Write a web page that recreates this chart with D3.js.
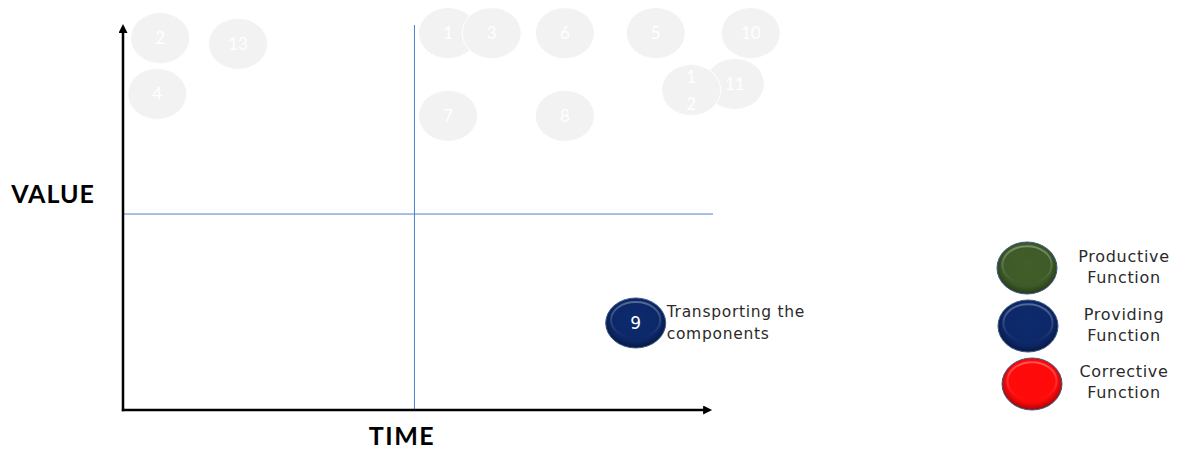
<!DOCTYPE html>
<html>
<head>
<meta charset="utf-8">
<script src="https://cdn.jsdelivr.net/npm/d3@7"></script>
<style>
  html, body { margin: 0; padding: 0; background: #ffffff; }
  svg { display: block; }
</style>
</head>
<body>
<svg id="chart" width="1178" height="450"></svg>
<script>
// Activities placed on the time / value plane (0–100 on both axes)
const activityIds    = [2, 13, 4, 1, 3, 6, 5, 10, 11, 12, 7, 8];
const activityTime   = [6.3, 19.5, 5.8, 55.1, 62.5, 74.9, 90.3, 106.4, 103.7, 96.3, 55.1, 74.9];
const activityValue  = [96.6, 95.1, 82.1, 97.9, 97.9, 97.9, 97.9, 97.9, 84.7, 83.1, 76.4, 76.4];
const activityLines  = [["2"], ["13"], ["4"], ["1"], ["3"], ["6"], ["5"], ["10"], ["11"], ["1", "2"], ["7"], ["8"]];

// Highlighted activity
const focusId    = 9;
const focusTime  = 86.9;
const focusValue = 22.6;
const focusType  = "Providing Function";
const focusText  = ["Transporting the", "components"];

// Quadrant dividers
const dividerTime  = 49.4;
const dividerValue = 50.9;

// Function types (legend)
const functionNames  = [["Productive", "Function"], ["Providing", "Function"], ["Corrective", "Function"]];
const functionKeys   = ["Productive Function", "Providing Function", "Corrective Function"];
const functionColors = ["#3e5a28", "#0c2868", "#ff0a0a"];

const svg = d3.select("#chart");
const x = d3.scaleLinear().domain([0, 100]).range([123, 713]);
const y = d3.scaleLinear().domain([0, 100]).range([410, 25]);
const color = d3.scaleOrdinal().domain(functionKeys).range(functionColors);

const defs = svg.append("defs");
defs.append("marker")
  .attr("id", "arrow")
  .attr("markerUnits", "userSpaceOnUse")
  .attr("viewBox", "0 0 10 10")
  .attr("refX", 1).attr("refY", 5)
  .attr("markerWidth", 10).attr("markerHeight", 9)
  .attr("orient", "auto")
  .append("path").attr("d", "M0,0L10,5L0,10Z").attr("fill", "#000");

// Beveled button look for coloured discs
functionColors.forEach((c, i) => {
  const g = defs.append("radialGradient")
    .attr("id", "bevel" + i).attr("cx", "50%").attr("cy", "45%").attr("r", "55%");
  g.append("stop").attr("offset", "0%").attr("stop-color", d3.color(c).brighter(0.15));
  g.append("stop").attr("offset", "75%").attr("stop-color", c);
  g.append("stop").attr("offset", "100%").attr("stop-color", d3.color(c).darker(1.3));
});
const hl = defs.append("linearGradient").attr("id", "shine").attr("x1", 0).attr("y1", 0).attr("x2", 0).attr("y2", 1);
hl.append("stop").attr("offset", "0%").attr("stop-color", "#fff").attr("stop-opacity", 0.3);
hl.append("stop").attr("offset", "100%").attr("stop-color", "#fff").attr("stop-opacity", 0);

function bevelDisc(sel, cx, cy, rx, ry, idx) {
  sel.append("ellipse")
    .attr("cx", cx).attr("cy", cy).attr("rx", rx).attr("ry", ry)
    .attr("fill", `url(#bevel${idx})`)
    .attr("stroke", "#3b5a8a").attr("stroke-width", 1);
  sel.append("ellipse")
    .attr("cx", cx).attr("cy", cy - ry * 0.12).attr("rx", rx * 0.82).attr("ry", ry * 0.72)
    .attr("fill", "none")
    .attr("stroke", "url(#shine)").attr("stroke-width", 2);
}

// Quadrant dividers
svg.append("line")
  .attr("x1", x(dividerTime)).attr("x2", x(dividerTime))
  .attr("y1", y(0)).attr("y2", y(100))
  .attr("stroke", "#4f7fd4").attr("stroke-width", 1);
svg.append("line")
  .attr("x1", x(0)).attr("x2", x(100))
  .attr("y1", y(dividerValue)).attr("y2", y(dividerValue))
  .attr("stroke", "#4f7fd4").attr("stroke-width", 1);

// Axes
svg.append("line")
  .attr("x1", x(0)).attr("y1", y(0) + 1.2)
  .attr("x2", x(0)).attr("y2", y(100) + 7)
  .attr("stroke", "#000").attr("stroke-width", 2.5)
  .attr("marker-end", "url(#arrow)");
svg.append("line")
  .attr("x1", x(0) - 1.2).attr("y1", y(0))
  .attr("x2", x(100) - 9).attr("y2", y(0))
  .attr("stroke", "#000").attr("stroke-width", 2.5)
  .attr("marker-end", "url(#arrow)");

svg.append("text")
  .attr("x", 53).attr("y", 203)
  .attr("text-anchor", "middle")
  .style("font-family", "Lato, 'Open Sans', sans-serif")
  .style("font-weight", 700).style("font-size", "25px")
  .style("letter-spacing", "1px")
  .attr("fill", "#000").text("VALUE");
svg.append("text")
  .attr("x", 402).attr("y", 445)
  .attr("text-anchor", "middle")
  .style("font-family", "Lato, 'Open Sans', sans-serif")
  .style("font-weight", 700).style("font-size", "25px")
  .style("letter-spacing", "1.5px")
  .attr("fill", "#000").text("TIME");

// Faded activities
const acts = svg.append("g").selectAll("g")
  .data(activityIds.map((id, i) => ({ id, t: activityTime[i], v: activityValue[i], lines: activityLines[i] })))
  .join("g");
acts.append("ellipse")
  .attr("cx", d => x(d.t)).attr("cy", d => y(d.v))
  .attr("rx", 29.5).attr("ry", 25.5)
  .attr("fill", "#f2f2f2")
  .attr("stroke", "#ffffff").attr("stroke-width", 1);
acts.append("text")
  .attr("text-anchor", "middle")
  .style("font-family", "Lato, sans-serif").style("font-size", "17px")
  .attr("fill", "#ffffff")
  .each(function (d) {
    const n = d.lines.length;
    d3.select(this).selectAll("tspan").data(d.lines).join("tspan")
      .attr("x", x(d.t))
      .attr("y", (s, k) => y(d.v) + 6 + (k - (n - 1) / 2) * 27)
      .text(s => s);
  });

// Highlighted activity
const fx = x(focusTime), fy = y(focusValue);
const focusG = svg.append("g");
bevelDisc(focusG, fx, fy, 30, 25, functionKeys.indexOf(focusType));
focusG.append("text")
  .attr("x", fx).attr("y", fy + 6)
  .attr("text-anchor", "middle")
  .style("font-family", "'DejaVu Sans', sans-serif").style("font-size", "17px")
  .attr("fill", "#ffffff").text(focusId);
focusG.append("text")
  .style("font-family", "'DejaVu Sans', sans-serif").style("font-size", "15.5px")
  .style("letter-spacing", "0.7px")
  .attr("fill", "#2b2b2b")
  .selectAll("tspan").data(focusText).join("tspan")
  .attr("x", fx + 31).attr("y", (s, k) => fy - 6 + k * 22)
  .text(s => s);

// Legend
const legend = svg.append("g");
const legendDisc = [[1027, 268], [1028, 326], [1032, 384]];
functionKeys.forEach((k, i) => {
  const g = legend.append("g");
  bevelDisc(g, legendDisc[i][0], legendDisc[i][1], 30, 26, functionColors.indexOf(color(k)));
  g.append("text")
    .attr("text-anchor", "middle")
    .style("font-family", "'DejaVu Sans', sans-serif").style("font-size", "16px")
    .style("letter-spacing", "0.7px")
    .attr("fill", "#2b2b2b")
    .selectAll("tspan").data(functionNames[i]).join("tspan")
    .attr("x", 1124).attr("y", (s, j) => 262 + i * 57.5 + j * 21)
    .text(s => s);
});
</script>
</body>
</html>
